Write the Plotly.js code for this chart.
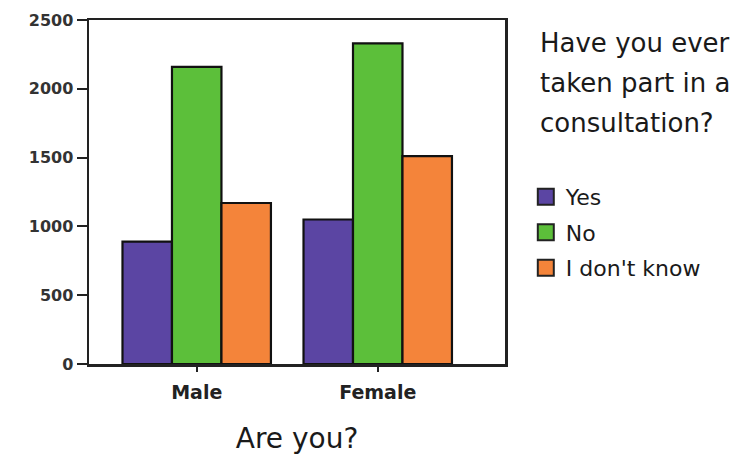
<!DOCTYPE html>
<html>
<head>
<meta charset="utf-8">
<script src="https://cdn.plot.ly/plotly-3.0.1.min.js"></script>
<style>html,body{margin:0;padding:0;background:#fff;}#chart{width:745px;height:459px;}</style>
</head>
<body>
<div id="chart"></div>
<script>
var categories = ["Male", "Female"];
var seriesNames = ["Yes", "No", "I don't know"];
var yesValues = [890, 1050];
var noValues = [2160, 2330];
var dontKnowValues = [1170, 1510];
var yTickValues = [0, 500, 1000, 1500, 2000, 2500];
var yTickLabels = ["0", "500", "1000", "1500", "2000", "2500"];
var legendTitleLines = ["Have you ever", "taken part in a", "consultation?"];
var xTitle = "Are you?";

var colors = ["#5b45a3", "#5cbf3a", "#f4843a"];
var allValues = [yesValues, noValues, dontKnowValues];
var FONT = "DejaVu Sans, sans-serif";
var INK = "#1a1a1a";

var traces = [];
allValues.forEach(function (vals, i) {
  traces.push({
    type: "bar",
    name: seriesNames[i],
    x: categories,
    y: vals,
    marker: { color: colors[i], line: { color: "#111", width: 2.2 } },
    showlegend: false,
    legendgroup: "g" + i
  });
});
// legend entries (bigger square swatches)
allValues.forEach(function (vals, i) {
  traces.push({
    type: "scatter",
    mode: "markers",
    name: seriesNames[i],
    x: [null],
    y: [null],
    marker: { symbol: "square", size: 16, color: colors[i], line: { color: "#222", width: 2 } },
    legendgroup: "g" + i,
    showlegend: true
  });
});

var titleY = [0.933, 0.817, 0.700];
var annotations = legendTitleLines.map(function (t, i) {
  return {
    text: t, xref: "paper", yref: "paper", x: 1.079, y: titleY[i],
    xanchor: "left", yanchor: "middle", showarrow: false, align: "left",
    font: { family: FONT, size: 26, color: INK }
  };
});

var layout = {
  width: 745,
  height: 459,
  margin: { l: 89, r: 240, t: 20, b: 95 },
  paper_bgcolor: "#ffffff",
  plot_bgcolor: "#ffffff",
  barmode: "group",
  bargap: 0.18,
  bargroupgap: 0,
  font: { family: FONT, color: INK },
  annotations: annotations,
  xaxis: {
    type: "category",
    range: [-0.595, 1.703],
    showgrid: false,
    zeroline: false,
    showline: true,
    mirror: true,
    linecolor: "#222",
    linewidth: 2.5,
    ticks: "outside",
    ticklen: 5,
    tickwidth: 2,
    tickcolor: "#222",
    ticklabelstandoff: 5,
    tickfont: { family: FONT, size: 19, color: "#222", weight: "bold" },
    title: { text: xTitle, font: { family: FONT, size: 28, color: INK }, standoff: 26 }
  },
  yaxis: {
    range: [0, 2500],
    tickvals: yTickValues,
    ticktext: yTickLabels,
    showgrid: false,
    zeroline: false,
    showline: true,
    mirror: true,
    linecolor: "#222",
    linewidth: 2.5,
    ticks: "outside",
    ticklen: 10,
    tickwidth: 2,
    tickcolor: "#222",
    tickfont: { family: FONT, size: 16, color: "#333", weight: "bold" }
  },
  showlegend: true,
  legend: {
    x: 1.05,
    xanchor: "left",
    y: 0.547,
    yanchor: "top",
    bgcolor: "rgba(0,0,0,0)",
    traceorder: "grouped",
    tracegroupgap: 4,
    font: { family: FONT, size: 22, color: INK },
    itemclick: false,
    itemdoubleclick: false
  }
};

Plotly.newPlot("chart", traces, layout, { displayModeBar: false, staticPlot: true });
</script>
</body>
</html>
